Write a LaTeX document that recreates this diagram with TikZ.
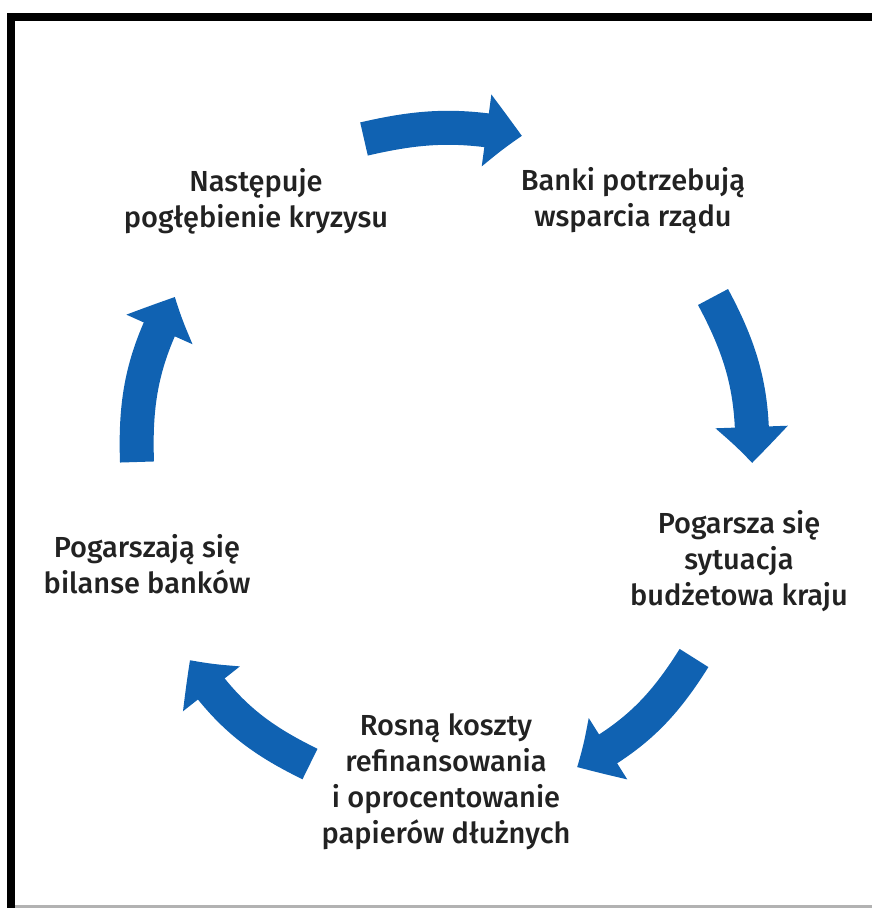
\documentclass[tikz,border=0pt]{standalone}
\usepackage{fontspec}
\IfFontExistsTF{Fira Sans Medium}{\setmainfont{Fira Sans Medium}}{\setmainfont{Fira Sans}}
\usetikzlibrary{arrows.meta,bending}
\definecolor{eublue}{RGB}{16,98,178}
\definecolor{txtgray}{RGB}{34,34,34}
\tikzset{
  cyc/.style={draw=eublue, line width=0.68cm, -{Triangle[length=0.74cm,width=1.38cm,bend]}, bend left=#1},
  lbl/.style={align=center, text=txtgray, font=\fontsize{16.5}{20.5}\selectfont},
}
\begin{document}
\begin{tikzpicture}[x=0.02cm,y=-0.02cm]
        \useasboundingbox (0,0) rectangle (872,908);
        \fill (7,13) rectangle (872,21);
        \fill (7,13) rectangle (15,908);
        \draw[gray!60, line width=1.5pt] (15,906.5) -- (872,906.5);
        \node[lbl] (crisis) at (256,201) {Następuje\\pogłębienie kryzysu};
        \node[lbl] (banks) at (633,201) {Banki potrzebują\\wsparcia rządu};
        \node[lbl] (budget) at (739,561) {Pogarsza się\\sytuacja\\budżetowa kraju};
        \node[lbl] (costs) at (446,782) {Rosną koszty\\refinansowania\\i oprocentowanie\\papierów dłużnych};
        \node[lbl] (sheets) at (147,564) {Pogarszają się\\bilanse banków};
        \coordinate (t1) at (364,139); \coordinate (h1) at (522,136);
        \coordinate (t2) at (713,297); \coordinate (h2) at (752,463);
        \coordinate (t3) at (694,658); \coordinate (h3) at (577,767);
        \coordinate (t4) at (310,764); \coordinate (h4) at (190,660);
        \coordinate (t5) at (137,462); \coordinate (h5) at (175,297);
        \draw[cyc=12] (t1) to (h1);
        \draw[cyc=15] (t2) to (h2);
        \draw[cyc=15] (t3) to (h3);
        \draw[cyc=15] (t4) to (h4);
        \draw[cyc=15] (t5) to (h5);
\end{tikzpicture}
\end{document}
